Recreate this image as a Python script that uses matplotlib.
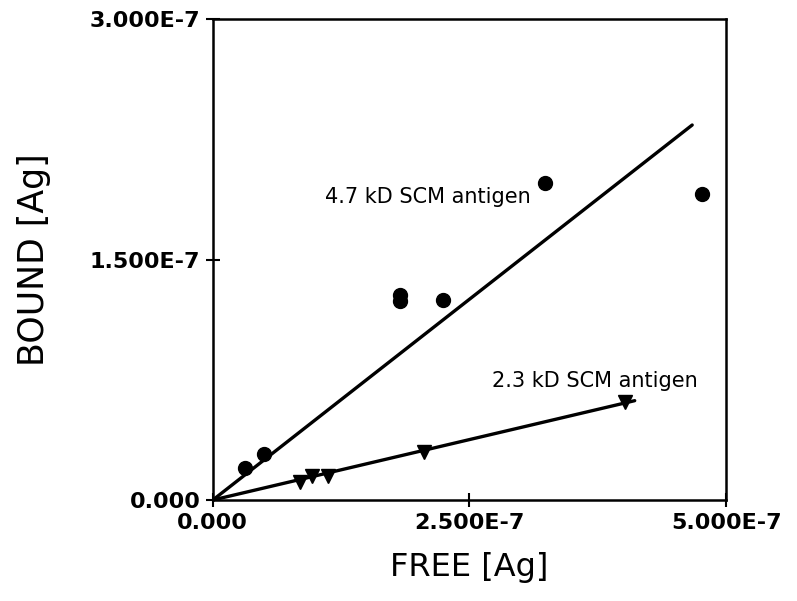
import numpy as np
import matplotlib.pyplot as plt
import matplotlib.ticker as mticker

# 4.7 kD SCM antigen binding data
free_47 = [0.31e-7, 0.50e-7, 1.82e-7, 1.82e-7, 2.24e-7, 3.24e-7, 4.77e-7]
bound_47 = [0.20e-7, 0.29e-7, 1.24e-7, 1.28e-7, 1.25e-7, 1.98e-7, 1.91e-7]
fit_47_x = [0.0, 4.67e-7]
fit_47_y = [0.0, 2.34e-7]

# 2.3 kD SCM antigen binding data
free_23 = [0.85e-7, 0.97e-7, 1.12e-7, 2.06e-7, 4.02e-7]
bound_23 = [0.11e-7, 0.15e-7, 0.15e-7, 0.30e-7, 0.61e-7]
fit_23_x = [0.0, 4.11e-7]
fit_23_y = [0.0, 0.62e-7]

xticks = [0.0, 2.5e-7, 5.0e-7]
yticks = [0.0, 1.5e-7, 3.0e-7]
xticklabels = ['0.000', '2.500E-7', '5.000E-7']
yticklabels = ['0.000', '1.500E-7', '3.000E-7']

fig = plt.figure(figsize=(7.97, 6.01), dpi=100)
ax = fig.add_axes([0.267, 0.168, 0.644, 0.800])

ax.plot(fit_47_x, fit_47_y, color='k', lw=2.4, solid_capstyle='round')
ax.plot(fit_23_x, fit_23_y, color='k', lw=2.4, solid_capstyle='round')
ax.plot(free_47, bound_47, 'o', color='k', ms=10)
ax.plot(free_23, bound_23, 'v', color='k', ms=10)

ax.text(2.10e-7, 1.89e-7, '4.7 kD SCM antigen', fontsize=15, ha='center', va='center')
ax.text(3.72e-7, 0.74e-7, '2.3 kD SCM antigen', fontsize=15, ha='center', va='center')

ax.set_xlim(0, 5.0e-7)
ax.set_ylim(0, 3.0e-7)
ax.xaxis.set_major_locator(mticker.FixedLocator(xticks))
ax.yaxis.set_major_locator(mticker.FixedLocator(yticks))
ax.set_xticklabels(xticklabels, fontsize=16, fontweight='bold')
ax.set_yticklabels(yticklabels, fontsize=16, fontweight='bold')
ax.tick_params(direction='inout', length=10, width=1.5, pad=4)

for s in ax.spines.values():
    s.set_linewidth(1.8)

ax.set_xlabel('FREE [Ag]', fontsize=23, labelpad=14)
ax.set_ylabel('BOUND [Ag]', fontsize=25, labelpad=28)

plt.savefig('out.png', dpi=100)
